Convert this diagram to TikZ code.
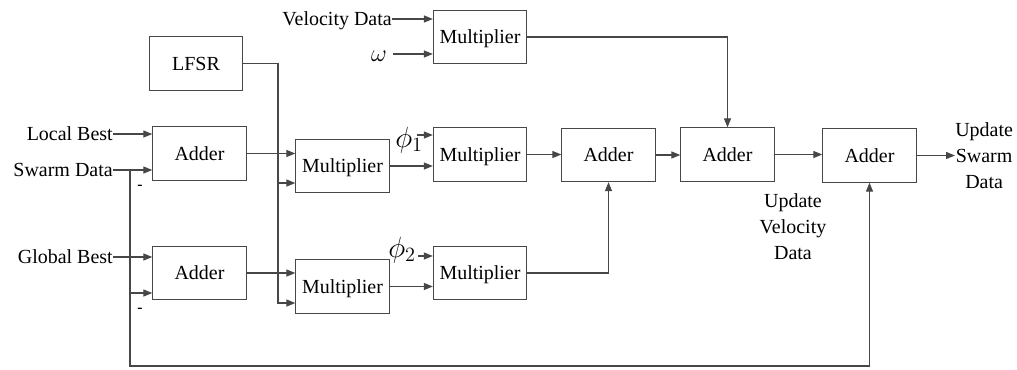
\documentclass[tikz,border=0pt]{standalone}
\usepackage{fontspec}
\setmainfont{Liberation Serif}
\usetikzlibrary{arrows.meta}
\begin{document}
\begin{tikzpicture}[x=0.025cm,y=-0.025cm,
  font=\fontsize{14.2}{18.6}\selectfont,
  wire/.style={draw=black!72, line width=0.8pt},
  sig/.style={wire, -{Triangle[length=6.4pt,width=5pt]}},
  block/.style={draw=black!72, line width=0.8pt, rectangle, inner sep=0pt,
    minimum width=2.33cm, minimum height=1.33cm, text height=9.4pt, text depth=0pt},
  lbl/.style={inner sep=0pt, text height=9.4pt, text depth=0pt},
  multi/.style={inner sep=0pt, align=center},
  greek/.style={inner sep=0pt, font=\fontsize{21}{23}\selectfont},
  minus/.style={inner sep=0pt, font=\fontsize{11}{12}\selectfont\bfseries}]
\useasboundingbox (0,0) rectangle (1017,369);

% processing blocks
\node[block] (lfsr) at (196,63.5)   {LFSR};
\node[block] (a1)   at (199.5,153.5) {Adder};
\node[block] (a2)   at (199.5,273)   {Adder};
\node[block] (m1)   at (342.5,166)   {Multiplier};
\node[block] (m2)   at (342.5,286.5) {Multiplier};
\node[block] (m0)   at (480,37)      {Multiplier};
\node[block] (m3)   at (480,154.5)   {Multiplier};
\node[block] (m4)   at (480,273)     {Multiplier};
\node[block] (a3)   at (608.5,155)   {Adder};
\node[block] (a4)   at (727.5,154.5) {Adder};
\node[block] (a5)   at (869.5,155.5) {Adder};

% input labels
\node[lbl, anchor=east] (lb) at (113,134) {Local Best};
\node[lbl, anchor=east] (sw) at (113,170) {Swarm Data};
\node[lbl, anchor=east] (gb) at (113,257) {Global Best};
\node[lbl, anchor=east] (vd) at (392,19)  {Velocity Data};
\node[greek, font=\fontsize{17}{18}\selectfont] (om) at (379,56) {$\omega$};
\node[greek, anchor=base west] (phi1) at (395,147) {$\phi_1$};
\node[greek, anchor=base west] (phi2) at (388,257) {$\phi_2$};
\node[minus] (n1) at (140,187) {-};
\node[minus] (n2) at (140,310) {-};

% output labels
\node[multi] (uvd) at (793,227)   {Update\\Velocity\\Data};
\node[multi, anchor=west] (usd) at (955,155.5) {Update\\Swarm\\Data};

% junction and start points
\coordinate (omS) at (393,54);
\coordinate (p1S) at (417,135);
\coordinate (p2S) at (418,256);
\coordinate (swJ) at (130,170);
\coordinate (swB) at (130,293);
\coordinate (swD) at (130,366);
\coordinate (lfA) at (278,183);
\coordinate (lfB) at (278,303);

% left adders
\draw[sig] (lb.east) -- (lb.east -| a1.west);
\draw[sig] (sw.east) -- (sw.east -| a1.west);
\draw[sig] (gb.east) -- (gb.east -| a2.west);
\draw[sig] (swB) -- (swB -| a2.west);
\draw[sig] (swJ) -- (swD) -| (a5.south);

% random numbers from the LFSR
\draw[sig] (lfsr.east) -| (lfB) -- (lfB -| m2.west);
\draw[sig] (lfA) -- (lfA -| m1.west);

% first multiplier stage
\draw[sig] (a1.east) -- (a1.east -| m1.west);
\draw[sig] (a2.east) -- (a2.east -| m2.west);

% weighting multipliers
\draw[sig] (vd.east) -- (vd.east -| m0.west);
\draw[sig] (omS) -- (omS -| m0.west);
\draw[sig] (p1S) -- (p1S -| m3.west);
\draw[sig] (p2S) -- (p2S -| m4.west);
\draw[sig] (m1.east) -- (m1.east -| m3.west);
\draw[sig] (m2.east) -- (m2.east -| m4.west);

% summation chain
\draw[sig] (m3.east) -- (m3.east -| a3.west);
\draw[sig] (m4.east) -| (a3.south);
\draw[sig] (a3.east) -- (a3.east -| a4.west);
\draw[sig] (m0.east) -| (a4.north);
\draw[sig] (a4.east) -- (a4.east -| a5.west);
\draw[sig] (a5.east) -- (a5.east -| usd.west);
\end{tikzpicture}
\end{document}
